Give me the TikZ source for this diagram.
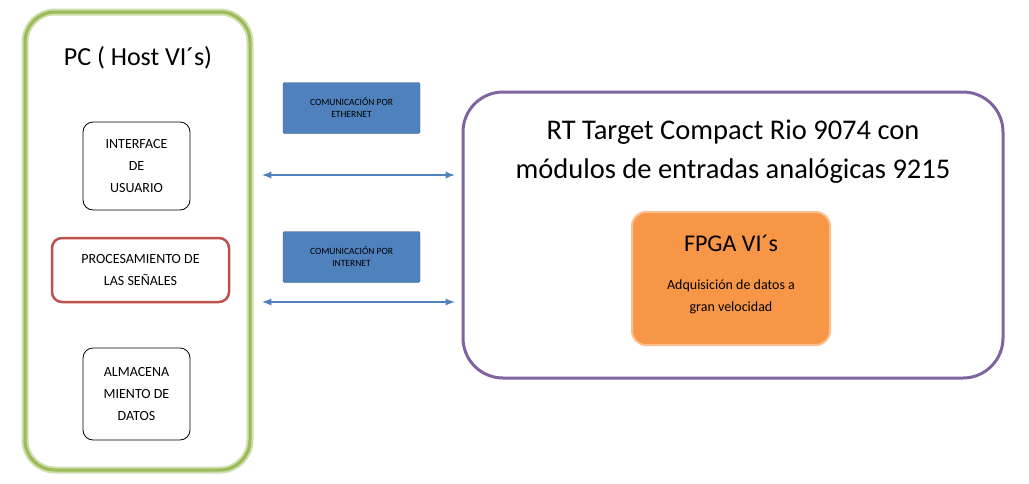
\documentclass[tikz,border=0pt]{standalone}
\usepackage{fontspec}
\setmainfont{Carlito}
\definecolor{pcgreen}{RGB}{155,187,89}
\definecolor{redb}{RGB}{192,80,77}
\definecolor{blueb}{RGB}{79,129,189}
\definecolor{purp}{RGB}{128,100,162}
\definecolor{orng}{RGB}{247,150,70}
\begin{document}
\begin{tikzpicture}[x=1pt,y=-1pt,
  inner/.style={draw=black,rounded corners=10pt,line width=0.8pt,align=center,font=\fontsize{14}{22}\selectfont},
  lbl/.style={draw=blueb!70!black,fill=blueb,rounded corners=2pt,align=center,font=\fontsize{9.5}{12}\selectfont,minimum width=137pt,minimum height=51pt},
  arr/.style={<->,>=latex,draw=blueb,line width=2.2pt}]
\useasboundingbox (0,0) rectangle (1029,483);
\draw[pcgreen!50,line width=7pt,rounded corners=30pt] (25,12) rectangle (250,470);
\draw[pcgreen,line width=3pt,rounded corners=30pt] (25,12) rectangle (250,470);
\node[font=\fontsize{26}{30}\selectfont] (pct) at (138,58) {PC ( Host VI´s)};
\node[inner,minimum width=107pt,minimum height=88pt] (ui) at (136.5,166) {INTERFACE\\DE\\USUARIO};
\node[inner,draw=redb,line width=2.5pt,minimum width=177pt,minimum height=64pt] (proc) at (140.5,270) {PROCESAMIENTO DE\\LAS SEÑALES};
\node[inner,minimum width=107pt,minimum height=92pt] (alm) at (136.5,394) {ALMACENA\\MIENTO DE\\DATOS};
\node[lbl] (eth) at (351.5,108) {COMUNICACIÓN POR\\ETHERNET};
\node[lbl] (int) at (351.5,257) {COMUNICACIÓN POR\\INTERNET};
\draw[purp,line width=3pt,rounded corners=40pt] (463,92) rectangle (1003,378);
\coordinate (rtl1) at (455,175);
\coordinate (rtl2) at (455,302);
\coordinate (pcr1) at (262,175);
\coordinate (pcr2) at (262,302);
\draw[arr] (pcr1) -- (rtl1);
\draw[arr] (pcr2) -- (rtl2);
\node[font=\fontsize{28.5}{39}\selectfont,align=center] (rt) at (733,152) {RT Target Compact Rio 9074 con\\módulos de entradas analógicas 9215};
\node[fill=orng,draw=orng!60,line width=2pt,rounded corners=14pt,minimum width=198pt,minimum height=133pt] (fpga) at (731,278.5) {};
\node[font=\fontsize{24}{28}\selectfont] (ft) at (731,243) {FPGA VI´s};
\node[font=\fontsize{14}{22}\selectfont,align=center] (fd) at (731,297) {Adquisición de datos a\\gran velocidad};
\end{tikzpicture}
\end{document}
